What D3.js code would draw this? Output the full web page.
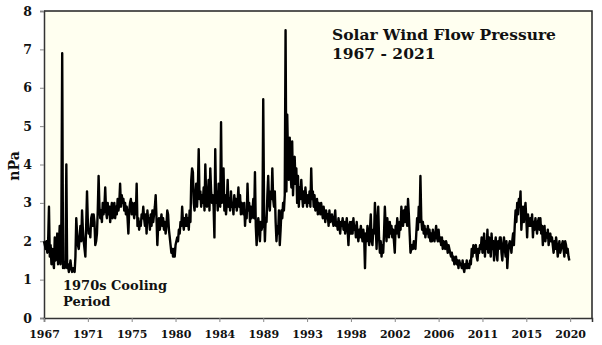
<!DOCTYPE html>
<html>
<head>
<meta charset="utf-8">
<script src="https://cdn.jsdelivr.net/npm/d3@7"></script>
<style>
  body { margin: 0; background: #ffffff; }
  svg text { font-family: "DejaVu Serif", Georgia, serif; font-weight: bold; fill: #111; }
</style>
</head>
<body>
<div id="chart"></div>
<script>
// Monthly solar wind flow pressure (nPa), one row per year starting January 1967
const startYear = 1967;
const pressureByYear = [
  [2.0, 1.9, 1.8, 2.0, 1.7, 2.0, 2.9, 1.6, 1.9, 1.4, 1.8, 1.5], // 1967
  [1.3, 2.1, 1.5, 1.8, 2.2, 1.4, 1.9, 2.4, 1.4, 2.5, 6.9, 1.3], // 1968
  [1.4, 1.3, 1.5, 4.0, 1.3, 1.4, 1.2, 1.3, 1.5, 1.3, 1.2, 1.3], // 1969
  [1.3, 1.2, 1.6, 2.6, 2.2, 1.9, 1.8, 2.1, 2.4, 2.0, 2.8, 2.3], // 1970
  [2.0, 1.8, 1.6, 2.4, 3.3, 2.5, 2.2, 2.3, 2.1, 2.6, 2.7, 2.4], // 1971
  [2.7, 2.5, 1.9, 2.0, 2.2, 2.8, 3.7, 2.9, 2.6, 2.8, 2.5, 3.0], // 1972
  [2.7, 2.9, 3.4, 2.8, 2.6, 3.0, 2.7, 2.9, 2.5, 2.8, 3.0, 2.6], // 1973
  [2.8, 3.0, 2.6, 2.9, 2.7, 3.1, 2.8, 3.0, 3.5, 2.9, 3.2, 3.0], // 1974
  [3.1, 2.8, 3.0, 2.7, 2.9, 2.6, 2.2, 2.8, 3.0, 3.1, 2.7, 3.0], // 1975
  [2.8, 2.6, 3.0, 2.7, 3.5, 2.4, 2.6, 2.3, 2.5, 2.4, 2.7, 2.6], // 1976
  [2.9, 2.6, 2.4, 2.7, 2.2, 2.8, 2.5, 2.6, 2.3, 2.7, 2.4, 2.8], // 1977
  [2.5, 2.7, 2.9, 3.2, 2.6, 1.9, 2.4, 2.6, 2.3, 2.5, 2.7, 2.4], // 1978
  [2.6, 2.3, 2.5, 2.2, 2.4, 2.8, 2.7, 2.3, 2.1, 1.9, 1.7, 1.8], // 1979
  [1.6, 1.8, 1.6, 1.9, 2.0, 2.1, 2.0, 2.3, 2.2, 2.5, 2.4, 2.9], // 1980
  [2.5, 2.3, 2.6, 2.4, 2.7, 2.4, 2.6, 2.3, 2.8, 2.5, 3.6, 3.9], // 1981
  [3.8, 3.0, 2.8, 3.2, 3.5, 2.9, 3.4, 4.4, 3.1, 3.3, 2.9, 3.2], // 1982
  [3.0, 3.4, 2.8, 4.0, 3.2, 2.9, 3.1, 3.6, 2.8, 3.9, 3.3, 3.0], // 1983
  [3.2, 2.9, 2.1, 4.4, 3.0, 3.3, 2.8, 3.5, 3.1, 2.9, 5.1, 3.0], // 1984
  [3.3, 3.9, 2.8, 3.2, 2.7, 3.0, 3.6, 2.9, 3.1, 2.8, 3.3, 2.9], // 1985
  [3.0, 2.7, 3.2, 2.9, 3.1, 2.8, 3.0, 3.4, 2.9, 3.2, 2.7, 3.0], // 1986
  [2.9, 2.7, 3.0, 2.4, 2.8, 2.6, 3.5, 2.8, 3.0, 2.5, 2.9, 2.6], // 1987
  [2.8, 3.1, 2.6, 3.8, 2.4, 1.9, 2.3, 2.6, 2.4, 2.0, 2.5, 2.3], // 1988
  [2.4, 5.7, 2.8, 2.0, 2.6, 2.5, 3.2, 3.7, 3.0, 2.8, 3.3, 3.1], // 1989
  [3.9, 3.1, 2.9, 3.3, 2.5, 2.0, 2.4, 2.2, 2.8, 1.9, 2.3, 2.8], // 1990
  [2.6, 3.0, 2.8, 3.2, 7.5, 3.3, 5.3, 4.1, 3.6, 4.7, 3.8, 3.4], // 1991
  [4.6, 3.2, 3.8, 4.2, 3.5, 3.9, 3.0, 3.7, 2.9, 3.4, 3.1, 3.6], // 1992
  [3.2, 2.9, 3.3, 3.0, 3.4, 3.1, 2.9, 3.2, 3.0, 3.3, 2.9, 3.9], // 1993
  [3.1, 3.3, 2.9, 3.2, 2.8, 3.0, 3.1, 2.7, 3.0, 2.9, 2.7, 3.0], // 1994
  [2.8, 2.6, 2.9, 2.7, 2.5, 2.8, 2.6, 2.7, 2.4, 2.8, 2.5, 2.6], // 1995
  [2.7, 2.5, 2.4, 2.6, 2.8, 2.4, 2.5, 2.3, 2.6, 2.4, 2.2, 2.5], // 1996
  [2.4, 2.6, 2.3, 2.5, 2.2, 2.4, 2.6, 2.3, 1.9, 2.4, 2.5, 2.2], // 1997
  [2.5, 2.2, 2.6, 2.3, 2.4, 2.1, 2.5, 2.2, 2.0, 2.3, 2.1, 2.4], // 1998
  [2.2, 2.0, 2.3, 2.1, 1.3, 2.2, 2.0, 2.4, 2.1, 1.9, 2.3, 2.7], // 1999
  [2.0, 1.9, 2.3, 2.2, 3.0, 2.4, 1.8, 2.5, 2.9, 2.1, 1.7, 2.0], // 2000
  [1.6, 1.9, 1.7, 2.2, 2.9, 2.4, 2.0, 2.6, 2.3, 2.1, 2.5, 2.2], // 2001
  [2.4, 2.1, 2.3, 2.0, 1.7, 2.4, 2.2, 2.6, 2.3, 2.1, 2.5, 2.3], // 2002
  [2.9, 2.5, 2.4, 2.8, 2.5, 2.9, 2.6, 2.4, 3.1, 2.7, 2.2, 1.7], // 2003
  [1.8, 1.9, 1.8, 2.0, 1.9, 1.8, 2.2, 2.6, 2.3, 2.9, 2.5, 3.7], // 2004
  [2.6, 2.3, 2.5, 2.2, 2.4, 2.1, 2.3, 2.2, 2.4, 2.1, 2.3, 2.0], // 2005
  [2.2, 2.0, 2.3, 2.1, 2.0, 2.2, 2.4, 2.1, 2.0, 2.3, 2.0, 2.1], // 2006
  [1.9, 2.1, 1.8, 2.0, 1.9, 1.8, 2.0, 1.9, 1.7, 1.9, 1.8, 1.7], // 2007
  [1.6, 1.7, 1.5, 1.6, 1.4, 1.5, 1.6, 1.4, 1.5, 1.3, 1.5, 1.4], // 2008
  [1.4, 1.3, 1.5, 1.3, 1.2, 1.4, 1.3, 1.5, 1.3, 1.4, 1.3, 1.5], // 2009
  [1.4, 1.8, 1.6, 1.9, 1.7, 1.8, 1.9, 1.6, 1.5, 1.8, 1.7, 1.9], // 2010
  [1.8, 2.1, 1.7, 1.9, 2.2, 1.6, 2.0, 1.8, 2.3, 1.7, 2.1, 1.9], // 2011
  [1.6, 2.2, 1.8, 2.0, 1.5, 1.9, 2.1, 1.7, 1.5, 2.0, 1.8, 2.1], // 2012
  [2.1, 1.7, 1.5, 1.9, 2.1, 1.8, 1.6, 2.0, 1.3, 1.7, 1.9, 2.0], // 2013
  [1.9, 1.7, 2.0, 2.2, 1.9, 2.4, 2.8, 2.5, 3.0, 2.7, 3.1, 2.9], // 2014
  [3.3, 2.3, 2.7, 2.9, 2.5, 2.8, 3.0, 2.6, 2.1, 2.7, 2.5, 2.4], // 2015
  [2.6, 2.4, 2.7, 2.1, 2.5, 2.3, 2.6, 2.4, 2.2, 2.5, 2.6, 2.3], // 2016
  [2.6, 2.2, 2.4, 1.9, 2.3, 2.4, 2.0, 2.2, 2.1, 2.3, 1.9, 2.1], // 2017
  [2.2, 2.0, 2.1, 1.9, 1.7, 2.0, 1.8, 2.1, 1.9, 1.6, 1.8, 2.0], // 2018
  [1.7, 1.8, 1.9, 2.0, 1.8, 1.6, 2.0, 1.9, 1.7, 1.8, 1.6, 1.5]  // 2019
];

// Axis labels: the category axis shows 13 evenly spaced year labels
const xTickLabels = ['1967', '1971', '1975', '1980', '1984', '1989', '1993',
                     '1998', '2002', '2006', '2011', '2015', '2020'];
const yTicks = [0, 1, 2, 3, 4, 5, 6, 7, 8];

const width = 602, height = 345;
const margin = { top: 11, right: 10, bottom: 27, left: 44 };

// Flatten to [decimal year, value]
const series = [];
pressureByYear.forEach((row, yi) => {
  row.forEach((v, m) => series.push({ t: startYear + yi + m / 12, v: v }));
});

const lastYear = 2020;
const xTickPos = xTickLabels.map((d, i) => startYear + i * (lastYear - startYear) / (xTickLabels.length - 1));

const svg = d3.select('#chart')
  .append('svg')
  .attr('width', width)
  .attr('height', height);

const x = d3.scaleLinear()
  .domain([startYear, 2022.2])
  .range([margin.left, width - margin.right]);

const y = d3.scaleLinear()
  .domain([0, 8])
  .range([height - margin.bottom, margin.top]);

// Plot background
svg.append('rect')
  .attr('x', margin.left)
  .attr('y', margin.top)
  .attr('width', width - margin.left - margin.right)
  .attr('height', height - margin.top - margin.bottom)
  .attr('fill', '#fffff0');

// Frame on top and right
svg.append('path')
  .attr('d', `M${margin.left},${margin.top}H${width - margin.right}V${height - margin.bottom}`)
  .attr('fill', 'none')
  .attr('stroke', '#222')
  .attr('stroke-width', 1.5);

// Y axis
const yAxis = svg.append('g')
  .attr('transform', `translate(${margin.left},0)`)
  .call(d3.axisLeft(y).tickValues(yTicks).tickSize(4).tickPadding(8).tickFormat(d3.format('d')));
yAxis.select('.domain').attr('stroke', '#333').attr('stroke-width', 1.5);
yAxis.selectAll('.tick line').attr('stroke', '#888');
yAxis.selectAll('text').style('font-size', '12.5px').attr('fill', '#111');

// X axis
const xAxis = svg.append('g')
  .attr('transform', `translate(0,${height - margin.bottom})`)
  .call(d3.axisBottom(x).tickValues(xTickPos).tickSize(4).tickPadding(8)
    .tickFormat((d, i) => xTickLabels[i]));
xAxis.select('.domain').attr('stroke', '#333').attr('stroke-width', 1.5);
xAxis.selectAll('.tick line').attr('stroke', '#888');
xAxis.selectAll('text').style('font-size', '11px').attr('fill', '#111');

// Pressure line
const line = d3.line()
  .x(d => x(d.t))
  .y(d => y(d.v));

svg.append('path')
  .datum(series)
  .attr('d', line)
  .attr('fill', 'none')
  .attr('stroke', '#000')
  .attr('stroke-width', 2.4)
  .attr('stroke-linejoin', 'round');

// Y axis title
svg.append('text')
  .attr('transform', 'translate(19,166) rotate(-90)')
  .attr('text-anchor', 'middle')
  .style('font-size', '14px')
  .text('nPa');

// Chart title, two lines
svg.append('text')
  .attr('x', 332)
  .attr('y', 40)
  .style('font-size', '15.5px')
  .text('Solar Wind Flow Pressure');
svg.append('text')
  .attr('x', 332)
  .attr('y', 59)
  .style('font-size', '15.5px')
  .text('1967 - 2021');

// Annotation
svg.append('text')
  .attr('x', 63)
  .attr('y', 290)
  .style('font-size', '13px')
  .text('1970s Cooling');
svg.append('text')
  .attr('x', 63)
  .attr('y', 306)
  .style('font-size', '13px')
  .text('Period');
</script>
</body>
</html>
